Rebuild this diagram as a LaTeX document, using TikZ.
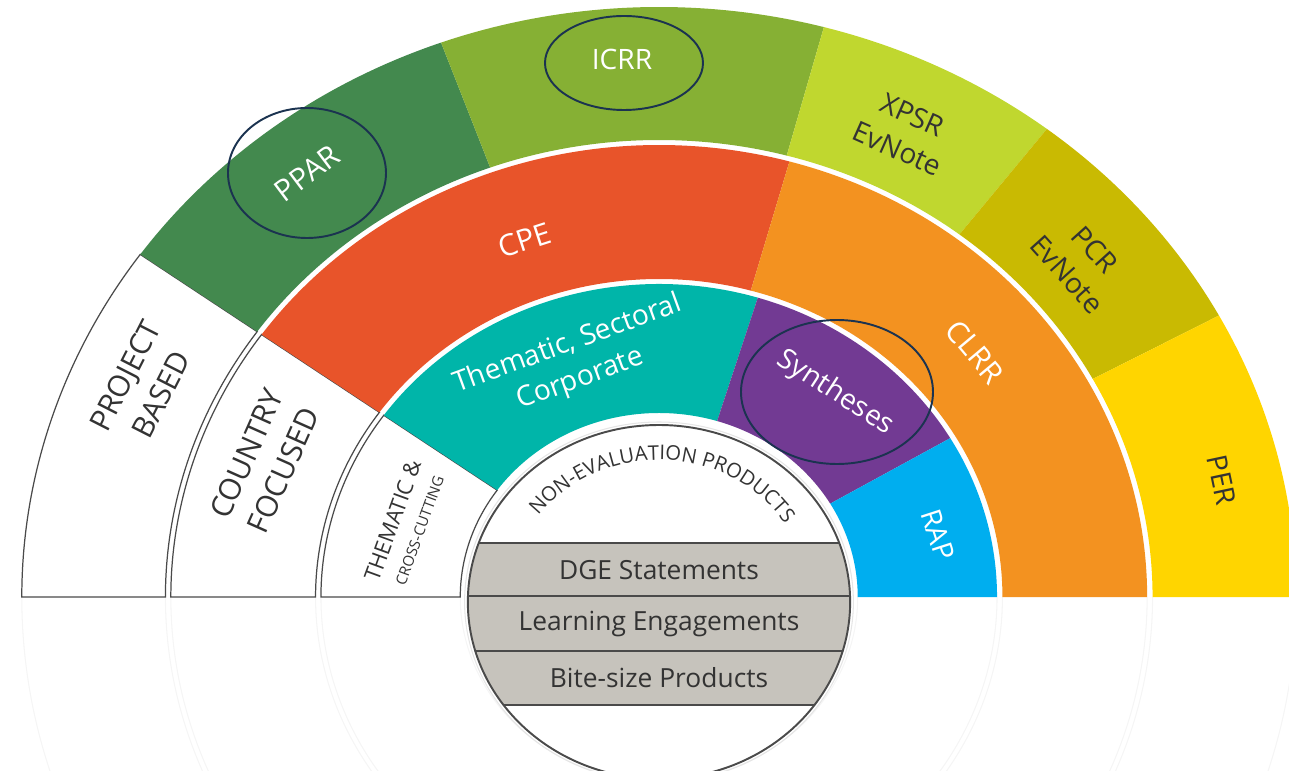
\documentclass[tikz,border=0pt]{standalone}
\usepackage{fontspec}
\setmainfont{Open Sans}
\usetikzlibrary{decorations.text}

\definecolor{pparGreen}{HTML}{43894E}
\definecolor{icrrGreen}{HTML}{86B034}
\definecolor{xpsrGreen}{HTML}{C0D72F}
\definecolor{pcrOlive}{HTML}{C9BA02}
\definecolor{perYellow}{HTML}{FFD500}
\definecolor{cpeRed}{HTML}{E8542A}
\definecolor{clrrOrange}{HTML}{F39220}
\definecolor{themTeal}{HTML}{00B5A9}
\definecolor{synPurple}{HTML}{723A93}
\definecolor{rapBlue}{HTML}{00AEEF}
\definecolor{bandGray}{HTML}{C6C3BC}
\definecolor{lineGray}{HTML}{4A4A4A}
\definecolor{txtDark}{HTML}{333333}
\definecolor{hoopNavy}{HTML}{1B3350}

% one piece of a ring: options, from angle, to angle, inner radius, outer radius
\newcommand{\ringpiece}[5]{%
  \path[#1] (#2:#4) arc[start angle=#2, end angle=#3, radius=#4]
    -- (#3:#5) arc[start angle=#3, end angle=#2, radius=#5] -- cycle;}

\begin{document}
\begin{tikzpicture}[x=0.2mm, y=0.2mm,
  seg/.style={draw=lineGray, line width=0.7pt, fill=white},
  lbl/.style={font=\fontsize{16}{21}\selectfont, text=white, align=center, inner sep=0pt},
  dlbl/.style={lbl, text=txtDark},
  hoop/.style={draw=hoopNavy, line width=1.1pt},
  ghost/.style={draw=black!4, line width=0.6pt}]

\useasboundingbox (-659,-173) rectangle (630,597);

\begin{scope}[xscale=1.08]
	\foreach \r in {590,457,452,318,313,184}
	  \draw[ghost] (180:\r) arc[start angle=180, end angle=360, radius=\r];
	% outer ring
	\ringpiece{seg}{144.5}{180}{457}{590}
	\ringpiece{fill=pparGreen}{110}{144.5}{457}{590}
	\ringpiece{fill=icrrGreen}{75}{110}{457}{590}
	\ringpiece{fill=xpsrGreen}{52.5}{75}{457}{590}
	\ringpiece{fill=pcrOlive}{28.5}{52.5}{457}{590}
	\ringpiece{fill=perYellow}{0}{28.5}{457}{590}
	% middle ring
	\ringpiece{seg}{144.5}{180}{318}{452}
	\ringpiece{fill=cpeRed}{74.5}{144.5}{318}{452}
	\ringpiece{fill=clrrOrange}{0}{74.5}{318}{452}
	% inner ring
	\ringpiece{seg}{144.5}{180}{184}{313}
	\ringpiece{fill=themTeal}{73}{144.5}{184}{313}
	\ringpiece{fill=synPurple}{30.5}{73}{184}{313}
	\ringpiece{fill=rapBlue}{0}{30.5}{184}{313}
\end{scope}

% non-evaluation products
\begin{scope}[shift={(0,-5)}, xscale=1.08]
	\fill[white] (0,0) circle[radius=177];
	\begin{scope}
	  \clip (0,0) circle[radius=177];
	  \fill[bandGray] (-200,-103) rectangle (200,59);
	  \draw[lineGray, line width=0.7pt] (-200,59) -- (200,59) (-200,6) -- (200,6)
	    (-200,-49) -- (200,-49) (-200,-103) -- (200,-103);
	\end{scope}
	\draw[lineGray, line width=1.1pt] (0,0) circle[radius=177];
	\draw[black!10, line width=0.6pt] (0,0) circle[radius=180];
\end{scope}
\path[decorate, decoration={text along path, text align=center,
    text={|\fontsize{11.5}{13}\selectfont\color{txtDark}|NON-EVALUATION PRODUCTS}}]
  (-145.8,31.7) arc[start angle=166, end angle=10, x radius=150, y radius=139];
\node[dlbl, font=\fontsize{15}{18}\selectfont] (dge) at (0,27) {DGE Statements};
\node[dlbl, font=\fontsize{15}{18}\selectfont] (learn) at (0,-27) {Learning Engagements};
\node[dlbl, font=\fontsize{15}{18}\selectfont] (bite) at (0,-81) {Bite-size Products};

% outer ring labels
\node[lbl, rotate=37, font=\fontsize{17}{21}\selectfont] (ppar) at (-352,424) {PPAR};
\draw[hoop] (ppar.center) ellipse[x radius=79, y radius=65];
\node[lbl] (icrr) at (-37,538) {ICRR};
\draw[hoop] (-35,534) ellipse[x radius=79, y radius=47];
\node[dlbl, rotate=-24] (xpsr) at (246,465) {XPSR\\EvNote};
\node[dlbl, rotate=-48] (pcr) at (422,335) {PCR\\EvNote};
\node[dlbl, rotate=-78] (per) at (563,117) {PER};
\node[dlbl, rotate=63, font=\fontsize{17}{23}\selectfont] (project) at (-516,212) {PROJECT\\BASED};

% middle ring labels
\node[lbl, rotate=18, font=\fontsize{17}{21}\selectfont] (cpe) at (-134,357) {CPE};
\node[lbl, rotate=-50, font=\fontsize{17}{21}\selectfont] (clrr) at (316,245) {CLRR};
\node[dlbl, rotate=66, font=\fontsize{17}{23}\selectfont] (country) at (-394,135) {COUNTRY\\FOCUSED};

% inner ring labels
\node[lbl, rotate=20] (them) at (-85,235) {Thematic, Sectoral\\Corporate};
\node[lbl, rotate=-33] (syn) at (176,204) {Syntheses};
\draw[hoop] (178,205) ellipse[x radius=96, y radius=72];
\node[lbl, rotate=-72] (rap) at (279,62) {RAP};
\node[dlbl, rotate=70, font=\fontsize{12.5}{15}\selectfont] (cross) at (-254,72)
  {THEMATIC \&\\{\fontsize{8.5}{10}\selectfont CROSS-CUTTING}};
\end{tikzpicture}
\end{document}
